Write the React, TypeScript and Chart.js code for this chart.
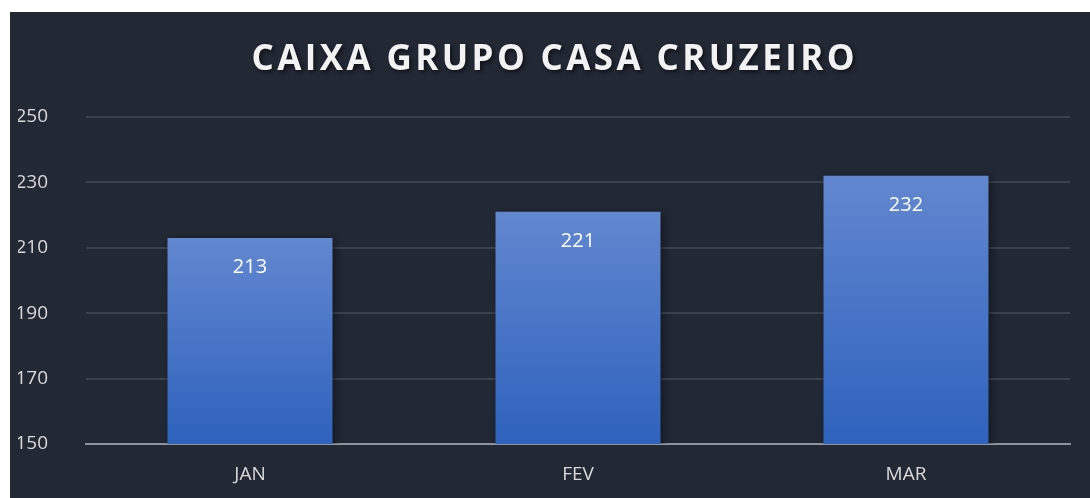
import React, { useEffect, useRef } from "react";
import { Chart, registerables } from "chart.js";

Chart.register(...registerables);

const TITLE = "CAIXA GRUPO CASA CRUZEIRO";
const categories = ["JAN", "FEV", "MAR"];
const values = [213, 221, 232];
const yMin = 150;
const yMax = 250;
const yStep = 20;

const FONT = "'Open Sans', 'Noto Sans', sans-serif";

export default function App() {
  const ref = useRef<HTMLCanvasElement | null>(null);

  useEffect(() => {
    if (!ref.current) return;

    const titlePlugin = {
      id: "customTitle",
      afterDraw(chart: any) {
        const ctx = chart.ctx;
        ctx.save();
        ctx.font = `bold 35px ${FONT}`;
        ctx.textAlign = "center";
        ctx.textBaseline = "middle";
        const target = 603;
        (ctx as any).letterSpacing = "0px";
        const w = ctx.measureText(TITLE).width;
        const sp = (target - w) / (TITLE.length - 1);
        (ctx as any).letterSpacing = `${sp}px`;
        ctx.shadowColor = "rgba(0,0,0,0.6)";
        ctx.shadowBlur = 4;
        ctx.shadowOffsetX = 2;
        ctx.shadowOffsetY = 2;
        ctx.fillStyle = "#f2f2f2";
        ctx.fillText(TITLE, 543 + sp / 2, 48);
        ctx.restore();
      },
    };

    const shadowPlugin = {
      id: "barShadow",
      beforeDatasetsDraw(chart: any) {
        const ctx = chart.ctx;
        ctx.save();
        ctx.shadowColor = "rgba(0,0,0,0.45)";
        ctx.shadowBlur = 8;
        ctx.shadowOffsetX = 3;
        ctx.shadowOffsetY = 2;
      },
      afterDatasetsDraw(chart: any) {
        chart.ctx.restore();
      },
    };

    const labelPlugin = {
      id: "dataLabels",
      afterDatasetsDraw(chart: any) {
        const ctx = chart.ctx;
        const meta = chart.getDatasetMeta(0);
        ctx.save();
        ctx.font = `20px ${FONT}`;
        ctx.fillStyle = "#ffffff";
        ctx.textAlign = "center";
        ctx.textBaseline = "middle";
        meta.data.forEach((bar: any, i: number) => {
          ctx.fillText(String(values[i]), bar.x, bar.y + 29);
        });
        ctx.restore();
      },
    };

    const chart = new Chart(ref.current, {
      type: "bar",
      data: {
        labels: categories,
        datasets: [
          {
            data: values,
            backgroundColor: (c: any) => {
              const ch = c.chart;
              const area = ch.chartArea;
              if (!area || c.raw === undefined) return "#4a74c8";
              const top = ch.scales.y.getPixelForValue(c.raw);
              const g = ch.ctx.createLinearGradient(0, top, 0, area.bottom);
              g.addColorStop(0, "#6287d0");
              g.addColorStop(1, "#2e62bd");
              return g;
            },
            borderWidth: 0,
            barPercentage: 0.503,
            categoryPercentage: 1,
          },
        ],
      },
      options: {
        animation: false,
        responsive: true,
        maintainAspectRatio: false,
        layout: { padding: { top: 105, left: 8, right: 20, bottom: 0 } },
        plugins: {
          legend: { display: false },
          title: { display: false },
          tooltip: { enabled: false },
        },
        scales: {
          x: {
            z: 1,
            grid: { display: false, drawTicks: false },
            border: { display: true, color: "rgba(200,203,210,0.6)", width: 2 },
            ticks: {
              color: "#d9d9d9",
              font: { family: FONT, size: 19 },
              padding: 19,
            },
            afterFit(scale: any) {
              scale.height = 54;
            },
          },
          y: {
            min: yMin,
            max: yMax,
            grid: { color: "#3a404c", lineWidth: 2, drawTicks: false },
            border: { display: false },
            ticks: {
              stepSize: yStep,
              color: "#d9d9d9",
              font: { family: FONT, size: 19 },
              padding: 38,
            },
            afterFit(scale: any) {
              scale.width = 68;
            },
          },
        },
      },
      plugins: [shadowPlugin, labelPlugin, titlePlugin],
    } as any);

    return () => chart.destroy();
  }, []);

  return (
    <div
      style={{
        position: "absolute",
        left: 10,
        top: 12,
        width: 1080,
        height: 486,
        background: "#222834",
      }}
    >
      <canvas ref={ref} />
    </div>
  );
}
